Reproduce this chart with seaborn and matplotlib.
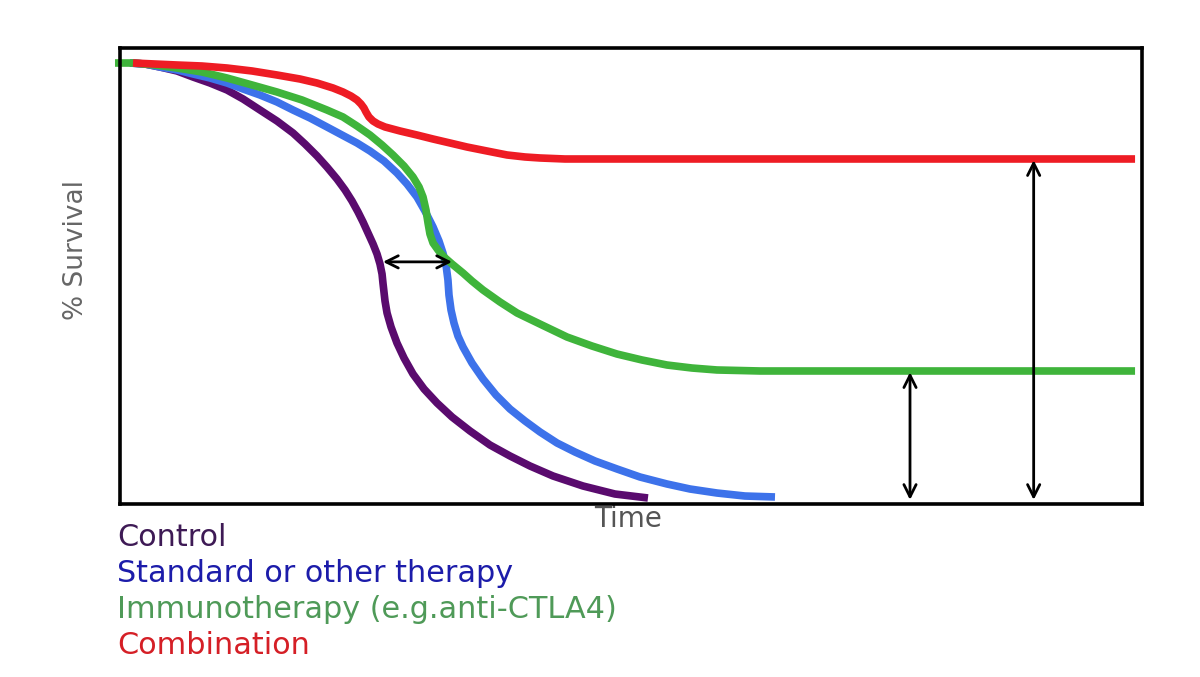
import matplotlib
matplotlib.use("Agg")
import matplotlib.pyplot as plt
import seaborn as sns
import pandas as pd

# ---- data (time units 0-100, survival %) ----
control_t = [0.98, 2.45, 3.91, 5.58, 7.14, 8.81, 10.47, 12.04, 13.70, 15.36, 16.93, 18.10, 19.28, 20.25,
             21.23, 22.02, 22.70, 23.29, 23.78, 24.27, 24.76, 25.15, 25.44, 25.64, 25.73, 25.83, 25.93,
             26.13, 26.52, 27.10, 27.79, 28.67, 29.75, 31.02, 32.49, 34.25, 36.20, 38.16, 40.12, 42.37,
             45.30, 48.43, 51.66]
control_s = [96.71, 96.49, 95.83, 94.96, 93.64, 92.32, 90.79, 88.82, 86.40, 83.99, 81.36, 78.95, 76.32, 73.90,
             71.27, 68.86, 66.45, 64.04, 61.84, 59.43, 57.02, 54.82, 52.63, 50.44, 48.46, 46.49, 44.52,
             41.89, 38.82, 35.31, 32.02, 28.51, 25.22, 22.15, 19.08, 16.01, 12.94, 10.53, 8.33, 6.14,
             3.95, 2.19, 1.32]

standard_t = [0.98, 2.45, 3.91, 5.58, 7.14, 8.81, 10.47, 12.04, 13.70, 15.36, 16.93, 18.59, 20.25, 21.72,
              23.19, 24.46, 25.83, 27.10, 28.08, 29.06, 29.84, 30.63, 31.21, 31.60, 31.90, 32.09, 32.19,
              32.39, 32.68, 33.07, 33.56, 34.44, 35.52, 36.79, 38.16, 39.63, 41.10, 42.76, 44.52, 46.48,
              48.63, 50.88, 53.52, 55.77, 58.41, 61.15, 64.09]
standard_s = [96.71, 96.49, 95.83, 95.18, 94.30, 93.42, 92.32, 91.01, 89.69, 88.16, 86.40, 84.65, 82.68, 80.92,
              79.17, 77.41, 75.22, 72.59, 70.18, 67.32, 64.25, 60.75, 57.68, 55.04, 52.41, 49.12, 45.83,
              42.54, 39.69, 36.84, 34.43, 30.92, 27.41, 23.90, 20.83, 18.20, 15.79, 13.38, 11.40, 9.43,
              7.68, 5.92, 4.39, 3.29, 2.41, 1.75, 1.54]

immuno_t = [-0.49, 1.27, 3.42, 5.58, 8.02, 10.47, 12.92, 15.36, 17.81, 20.25, 21.82, 23.19, 24.46, 25.64,
            26.71, 27.79, 28.67, 29.26, 29.65, 29.94, 30.14, 30.33, 30.63, 31.12, 31.70, 32.49, 33.56,
            34.44, 35.52, 37.18, 38.85, 41.29, 43.74, 46.18, 48.63, 51.08, 53.52, 55.97, 58.41, 62.62, 99.32]
immuno_s = [96.71, 96.71, 96.27, 95.61, 94.74, 93.42, 91.89, 90.35, 88.60, 86.40, 84.87, 82.89, 80.92, 78.73,
            76.54, 74.12, 71.71, 69.52, 67.32, 64.47, 61.62, 59.21, 57.24, 55.70, 54.17, 52.63, 50.66,
            48.90, 46.93, 44.30, 41.89, 39.25, 36.62, 34.65, 32.89, 31.58, 30.48, 29.82, 29.39, 29.17, 29.17]

combo_t = [1.27, 3.42, 5.58, 8.02, 10.47, 12.92, 15.36, 17.61, 19.28, 20.84, 21.82, 22.60, 23.19, 23.58,
           23.87, 24.07, 24.36, 24.76, 25.24, 25.93, 27.40, 29.06, 30.63, 32.29, 33.95, 35.91, 37.87,
           39.63, 41.10, 43.54, 45.99, 99.32]
combo_s = [96.71, 96.49, 96.27, 96.05, 95.61, 94.96, 94.08, 93.20, 92.32, 91.23, 90.35, 89.47, 88.60, 87.72,
           86.84, 85.96, 84.87, 83.99, 83.33, 82.68, 81.80, 80.92, 80.04, 79.17, 78.29, 77.41, 76.54,
           76.10, 75.88, 75.66, 75.66, 75.66]

series_names = ["Control", "Standard or other therapy", "Immunotherapy (e.g.anti-CTLA4)", "Combination"]
line_colors = ["#5a0b6e", "#3d72ea", "#3fb43b", "#ee1c24"]
label_colors = ["#3e1a55", "#1c1caa", "#4f9a58", "#d51f26"]

# arrows: (x_start, y_start, x_end, y_end) in data units
arrow_h = (25.73, 53.1, 32.49, 53.1)
arrow_v1 = (77.3, 28.9, 77.3, 0.9)
arrow_v2 = (89.4, 75.4, 89.4, 0.9)

sns.set_theme(style="white")
plt.rcParams["font.family"] = ["DejaVu Sans"]

fig = plt.figure(figsize=(12, 6.77), dpi=100)
ax = fig.add_axes([0.1, 1 - 504 / 677, (1142 - 120) / 1200, (504 - 48) / 677])

data = [(control_t, control_s), (standard_t, standard_s), (immuno_t, immuno_s), (combo_t, combo_s)]
for (t, s), c in zip(data, line_colors):
    df = pd.DataFrame({"t": t, "s": s})
    sns.lineplot(data=df, x="t", y="s", color=c, linewidth=5.5, estimator=None,
                 sort=False, ax=ax, clip_on=False, solid_capstyle="butt", solid_joinstyle="round")

for (x0, y0, x1, y1) in [arrow_h, arrow_v1, arrow_v2]:
    ax.annotate("", xy=(x1, y1), xytext=(x0, y0),
                arrowprops=dict(arrowstyle="<->", color="black", lw=2.0,
                                mutation_scale=22, shrinkA=0, shrinkB=0))

ax.set_xlim(0, 100)
ax.set_ylim(0, 100)
ax.set_xticks([])
ax.set_yticks([])
for sp in ax.spines.values():
    sp.set_color("black")
    sp.set_linewidth(2.6)

ax.set_xlabel("Time", fontsize=20, color="#555555")
ax.xaxis.set_label_coords((628 - 120) / 1022, -(527 - 504) / 456)
ax.xaxis.label.set_verticalalignment("baseline")
ax.set_ylabel("% Survival", fontsize=19, color="#666666")
ax.yaxis.set_label_coords((89 - 120) / 1022, (504 - 250) / 456)

ys = [538, 574, 610, 645]
for name, c, y in zip(series_names, label_colors, ys):
    fig.text(117 / 1200, 1 - y / 677, name, color=c, fontsize=21.8, va="center", ha="left")

fig.savefig("out.png", dpi=100, facecolor="white")
